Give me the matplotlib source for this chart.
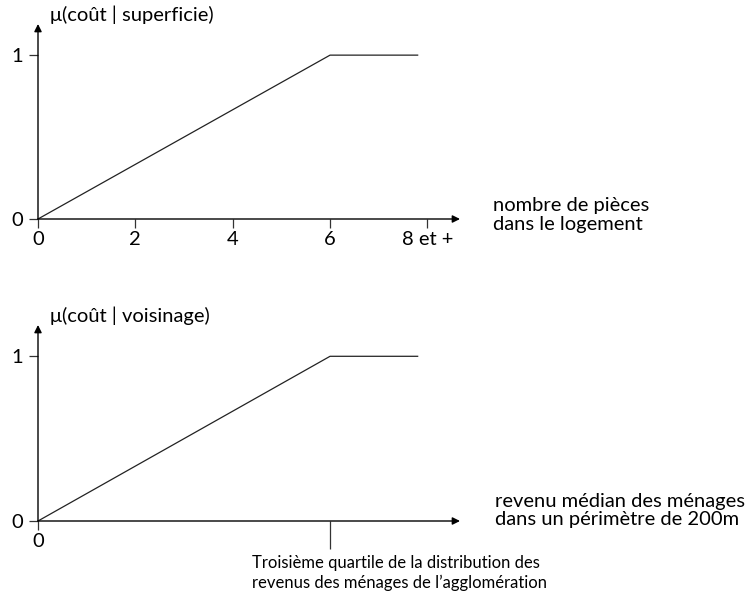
import matplotlib.pyplot as plt
import numpy as np

plt.rcParams['font.family'] = ['Lato', 'DejaVu Sans']

# fonctions d'appartenance (linéaires par morceaux)
pieces_x = [0, 6, 7.8]
pieces_mu = [0, 1, 1]
pieces_ticks = [0, 2, 4, 6, 8]
pieces_ticklabels = ['0', '2', '4', '6', '8 et +']

revenu_x = [0, 6, 7.8]
revenu_mu = [0, 1, 1]
quartile_pos = 6  # troisième quartile

mu_ticks = [0, 1]

XMAX = 8.67
YMAX = 1.19
FS = 14.5

fig = plt.figure(figsize=(7.56, 6), dpi=100)
ax1 = fig.add_axes([38 / 756, 381 / 600, 422 / 756, 195 / 600])
ax2 = fig.add_axes([38 / 756, 79 / 600, 422 / 756, 196 / 600])


def setup(ax):
    ax.set_xlim(0, XMAX)
    ax.set_ylim(0, YMAX)
    for s in ax.spines.values():
        s.set_visible(False)
    # axes avec flèches
    arrow = dict(arrowstyle='-|>', lw=1.0, color='black', mutation_scale=11,
                 shrinkA=0, shrinkB=0)
    ax.annotate('', xy=(1, 0), xytext=(0, 0), xycoords='axes fraction',
                textcoords='axes fraction', arrowprops=arrow, annotation_clip=False)
    ax.annotate('', xy=(0, 1), xytext=(0, 0), xycoords='axes fraction',
                textcoords='axes fraction', arrowprops=arrow, annotation_clip=False)
    ax.set_yticks(mu_ticks)
    ax.set_yticklabels([str(t) for t in mu_ticks])
    ax.tick_params(axis='y', direction='out', length=6.5, width=0.9,
                   labelsize=FS, pad=4, color='#333333')
    ax.tick_params(axis='x', direction='out', length=6.5, width=0.9,
                   labelsize=FS, pad=2, color='#333333')


setup(ax1)
ax1.plot(pieces_x, pieces_mu, color='#222222', lw=0.9, clip_on=False)
ax1.set_xticks(pieces_ticks)
ax1.set_xticklabels(pieces_ticklabels)
ax1.annotate('μ(coût | superficie)', xy=(0, 1), xycoords='axes fraction',
             xytext=(8.5, 6.5), textcoords='offset points',
             ha='left', va='center', fontsize=FS, annotation_clip=False)
ax1.annotate('nombre de pièces\ndans le logement', xy=(1, 0), xycoords='axes fraction',
             xytext=(24, 3), textcoords='offset points',
             ha='left', va='center', fontsize=FS, linespacing=1.1,
             annotation_clip=False)

setup(ax2)
ax2.plot(revenu_x, revenu_mu, color='#222222', lw=0.9, clip_on=False)
ax2.set_xticks([0, quartile_pos])
ax2.set_xticklabels(['0', ''])
ax2.get_xaxis().get_major_ticks()[1].tick1line.set_markersize(20)
ax2.annotate('μ(coût | voisinage)', xy=(0, 1), xycoords='axes fraction',
             xytext=(8.5, 7), textcoords='offset points',
             ha='left', va='center', fontsize=FS, annotation_clip=False)
ax2.annotate('revenu médian des ménages\ndans un périmètre de 200m',
             xy=(1, 0), xycoords='axes fraction',
             xytext=(25, 7.5), textcoords='offset points',
             ha='left', va='center', fontsize=FS, linespacing=1.05,
             annotation_clip=False)
ax2.annotate('Troisième quartile de la distribution des\n'
             'revenus des ménages de l\u2019agglomération',
             xy=(quartile_pos, 0), xycoords='data',
             xytext=(-56, -24.5), textcoords='offset points',
             ha='left', va='top', fontsize=12, linespacing=1.3,
             annotation_clip=False)

fig.savefig('out.png', dpi=100)
